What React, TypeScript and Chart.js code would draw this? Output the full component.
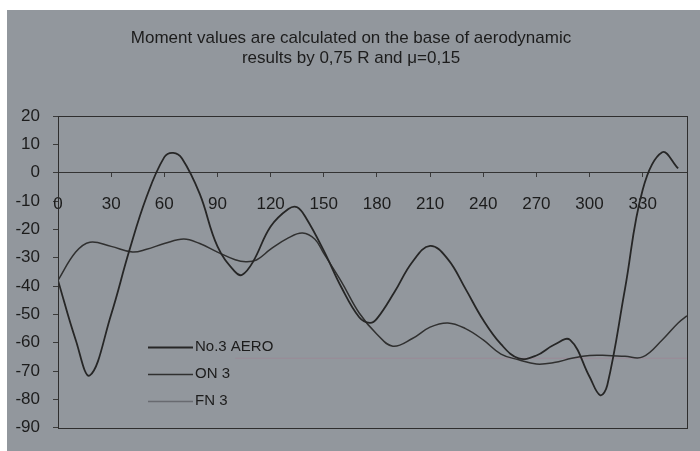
import React, { useEffect, useRef } from "react";
import { Chart, registerables } from "chart.js";

Chart.register(...registerables);

// ---- data ----
const titleLines = [
  "Moment values are calculated on the base of aerodynamic",
  "results by 0,75 R and μ=0,15",
];
const seriesNames = ["No.3 AERO", "ON 3", "FN 3"];

const aeroAngles = [0, 10, 18, 30, 40, 50, 60, 65, 70, 80, 90, 100, 104, 110, 120, 130, 135, 140, 150, 160, 170, 176, 180, 190, 200, 210, 220, 230, 240, 250, 260, 270, 280, 289, 300, 306, 310, 320, 330, 341, 350];
const aeroValues = [-38, -59, -71.5, -50, -28, -8.5, 5.5, 7, 5, -7.5, -26, -35, -36, -31.5, -19, -12.8, -12.2, -16, -27.5, -40.5, -51, -53, -51.5, -42, -31.5, -25.8, -30.5, -41, -52, -60.5, -65.5, -64.5, -60.7, -59, -72, -78.5, -75, -41, -6, 7.2, 1.5];

const onAngles = [0, 10, 18, 30, 42, 50, 60, 71, 80, 90, 100, 106, 112, 120, 130, 138, 145, 150, 160, 170, 180, 189, 200, 210, 220, 230, 240, 250, 260, 270, 280, 290, 300, 310, 320, 330, 341, 350, 355];
const onValues = [-38, -28, -24.5, -26, -28, -27, -25, -23.4, -25, -28, -30.7, -31.4, -30.8, -27, -23, -21.3, -23.5, -28.5, -38.5, -49.5, -57, -61.2, -58.5, -54.5, -53, -55, -59, -64, -66, -67.5, -67, -65.5, -64.5, -64.5, -64.8, -65, -59, -53, -50.5];

const fnAngles = [100, 355];
const fnValues = [-65.5, -65.5];

const xMin = 0;
const xMax = 355;
const xStep = 30;
const yMin = -90;
const yMax = 20;
const yStep = 10;

const FONT = "'Liberation Sans', Arial, sans-serif";
const BG = "rgb(146,151,157)";
const INK = "#1c1c1c";

const toPoints = (xs: number[], ys: number[]) => xs.map((x, i) => ({ x, y: ys[i] }));

const backgroundPlugin = {
  id: "bgFill",
  beforeDraw(chart: any) {
    const { ctx, width, height } = chart;
    ctx.save();
    ctx.fillStyle = BG;
    ctx.fillRect(0, 0, width, height);
    ctx.restore();
  },
};

const framePlugin = {
  id: "frameBox",
  afterDraw(chart: any) {
    const { ctx, chartArea } = chart;
    ctx.save();
    ctx.strokeStyle = "#2e2e2e";
    ctx.lineWidth = 1;
    ctx.strokeRect(
      Math.round(chartArea.left) + 0.5,
      Math.round(chartArea.top) + 0.5,
      Math.round(chartArea.right - chartArea.left),
      Math.round(chartArea.bottom - chartArea.top)
    );
    ctx.restore();
  },
};

const legendPlugin = {
  id: "innerLegend",
  afterDraw(chart: any) {
    const { ctx, chartArea } = chart;
    const x0 = chartArea.left + 90;
    const x1 = chartArea.left + 135;
    const tx = chartArea.left + 137;
    const rows = [231, 258, 285];
    ctx.save();
    ctx.font = `15px ${FONT}`;
    ctx.textBaseline = "middle";
    ctx.textAlign = "left";
    chart.data.datasets.forEach((ds: any, i: number) => {
      const y = chartArea.top + rows[i];
      ctx.strokeStyle = ds.legendColor || ds.borderColor;
      ctx.lineWidth = ds.borderWidth;
      ctx.beginPath();
      ctx.moveTo(x0, Math.round(y) + 0.5);
      ctx.lineTo(x1, Math.round(y) + 0.5);
      ctx.stroke();
      ctx.fillStyle = INK;
      ctx.fillText(ds.label, tx, y);
    });
    ctx.restore();
  },
};

export default function App() {
  const ref = useRef<HTMLCanvasElement | null>(null);

  useEffect(() => {
    if (!ref.current) return;
    const chart = new Chart(ref.current, {
      type: "line",
      data: {
        datasets: [
          {
            label: seriesNames[0],
            data: toPoints(aeroAngles, aeroValues),
            borderColor: "#262626",
            borderWidth: 1.8,
            pointRadius: 0,
            tension: 0.4,
            fill: false,
          },
          {
            label: seriesNames[1],
            data: toPoints(onAngles, onValues),
            borderColor: "#303030",
            borderWidth: 1.5,
            pointRadius: 0,
            tension: 0.4,
            fill: false,
          },
          {
            label: seriesNames[2],
            data: toPoints(fnAngles, fnValues),
            borderColor: "rgba(160,128,146,0.45)",
            legendColor: "rgba(70,70,75,0.55)",
            borderWidth: 1.3,
            pointRadius: 0,
            fill: false,
          } as any,
        ],
      },
      options: {
        animation: false,
        responsive: false,
        devicePixelRatio: 1,
        layout: { padding: { left: 8, right: 26, top: 0, bottom: 14 } },
        plugins: {
          legend: { display: false },
          tooltip: { enabled: false },
          title: {
            display: true,
            text: titleLines,
            color: INK,
            font: { family: FONT, size: 17, weight: "normal", lineHeight: 1.1765 },
            padding: { top: 18, bottom: 48 },
          },
        },
        scales: {
          x: {
            type: "linear",
            min: xMin,
            max: xMax,
            position: { y: 0 } as any,
            ticks: {
              stepSize: xStep,
              includeBounds: false,
              padding: 17,
              color: INK,
              autoSkip: false,
              maxRotation: 0,
              font: { family: FONT, size: 17 },
            },
            grid: { drawOnChartArea: false, drawTicks: true, tickLength: 4, color: "#3a3a3a" },
            border: { display: true, color: "#333333", width: 1 },
          },
          y: {
            type: "linear",
            min: yMin,
            max: yMax,
            ticks: {
              stepSize: yStep,
              padding: 13,
              color: INK,
              font: { family: FONT, size: 17 },
            },
            grid: { drawOnChartArea: false, drawTicks: true, tickLength: 5, color: "#3a3a3a" },
            border: { display: true, color: "#333333", width: 1 },
            afterFit: (s: any) => {
              s.width = 43;
            },
          },
        },
      },
      plugins: [backgroundPlugin, framePlugin, legendPlugin],
    } as any);
    return () => chart.destroy();
  }, []);

  return (
    <canvas
      ref={ref}
      width={706}
      height={441}
      style={{ position: "fixed", left: 7, top: 10, width: 706, height: 441 }}
    />
  );
}
